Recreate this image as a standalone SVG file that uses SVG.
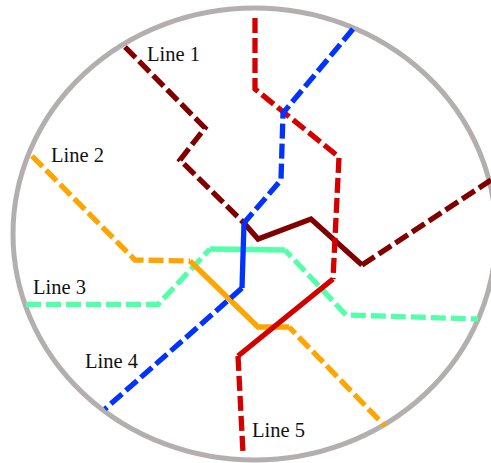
<svg xmlns="http://www.w3.org/2000/svg" width="491" height="463" viewBox="0 0 491 463">
<style>
.d,.s{fill:none;stroke-width:5.3;stroke-linejoin:miter}
.d{stroke-dasharray:15 5}
.o{stroke-dashoffset:6}
.t{font-family:"Liberation Serif",serif;font-size:20.5px;fill:#111}
</style>
<rect width="491" height="463" fill="#fff"/>
<ellipse id="border" cx="254.500" cy="234" rx="241.500" ry="226" fill="none" stroke="#b3afaf" stroke-width="5"/>
<g id="connectors">
<g id="line3" stroke="#55ffaa">
<path class="d" d="M26 304.500H158L210 249"/><path class="s" d="M210 249L285 250"/><path class="d o" d="M285 250L346 315L478 319"/>
</g>
<g id="line2" stroke="#ffa500">
<path class="d" d="M32 156L135 260L190 261"/><path class="s" d="M190 261L258 327L289 327"/><path class="d o" d="M289 327L385 426"/>
</g>
<g id="line1" stroke="#800000">
<path class="d" d="M125 47L205 128L180 160L244 223"/><path class="s" d="M244 223L258 239L311 219L362 265"/><path class="d" d="M362 265L491 180"/>
</g>
<g id="line5" stroke="#d40000">
<path class="d" d="M255 18V89L339 157L333 279"/><path class="s" d="M333 279L238 356"/><path class="d" d="M238 356L243 453"/>
</g>
<g id="line4" stroke="#0033ff">
<path class="d" d="M353 29L283 113L281 180L244 223"/><path class="s" d="M244 223L242 288"/><path class="d" d="M242 288L105 409"/>
</g>
</g>
<g id="label1"><text class="t" x="147" y="60.500">Line 1</text></g>
<g id="label2"><text class="t" x="51" y="161.500">Line 2</text></g>
<g id="label3"><text class="t" x="33" y="293.500">Line 3</text></g>
<g id="label4"><text class="t" x="85" y="367.500">Line 4</text></g>
<g id="label5"><text class="t" x="252" y="436.500">Line 5</text></g>
</svg>
